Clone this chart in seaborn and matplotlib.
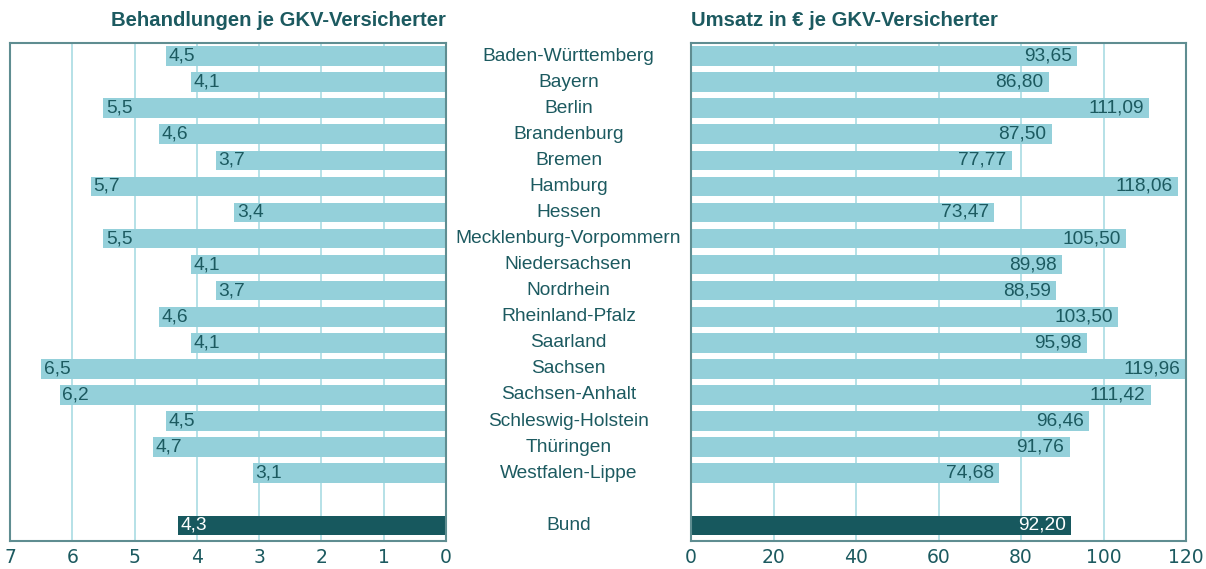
import matplotlib
matplotlib.use('Agg')
import matplotlib.pyplot as plt
import matplotlib.transforms as mtransforms
import seaborn as sns
import pandas as pd

regions = ["Baden-Württemberg", "Bayern", "Berlin", "Brandenburg", "Bremen",
           "Hamburg", "Hessen", "Mecklenburg-Vorpommern", "Niedersachsen",
           "Nordrhein", "Rheinland-Pfalz", "Saarland", "Sachsen",
           "Sachsen-Anhalt", "Schleswig-Holstein", "Thüringen",
           "Westfalen-Lippe", "Bund"]
behandlungen = [4.5, 4.1, 5.5, 4.6, 3.7, 5.7, 3.4, 5.5, 4.1, 3.7, 4.6, 4.1,
                6.5, 6.2, 4.5, 4.7, 3.1, 4.3]
umsatz = [93.65, 86.80, 111.09, 87.50, 77.77, 118.06, 73.47, 105.50, 89.98,
          88.59, 103.50, 95.98, 119.96, 111.42, 96.46, 91.76, 74.68, 92.20]
left_ticks = [7, 6, 5, 4, 3, 2, 1, 0]
right_ticks = [0, 20, 40, 60, 80, 100, 120]

LIGHT = "#94d0da"
DARK = "#17585e"
TEXT = "#1c5a60"
GRID = "#a9dbe3"
SPINE = "#5f8d91"

df = pd.DataFrame({"Region": regions, "Behandlungen": behandlungen, "Umsatz": umsatz})
df["Typ"] = ["Bund" if r == "Bund" else "KV" for r in df["Region"]]
order = regions[:-1] + [" "] + ["Bund"]
palette = {"KV": LIGHT, "Bund": DARK}

sns.set_style("white")
plt.rcParams['font.family'] = ['Liberation Sans', 'DejaVu Sans']

fig = plt.figure(figsize=(12.06, 5.69), dpi=100)
ax1 = fig.add_axes([10 / 1206, 28 / 569, 436 / 1206, 498 / 569])
ax2 = fig.add_axes([691 / 1206, 28 / 569, 495 / 1206, 498 / 569])

for ax, col in [(ax1, "Behandlungen"), (ax2, "Umsatz")]:
    sns.barplot(data=df, y="Region", x=col, hue="Typ", order=order,
                palette=palette, orient="h", width=0.75, legend=False,
                saturation=1, linewidth=0, ax=ax, zorder=2)
    ax.set_ylim(18.6, -0.5)
    ax.set_ylabel("")
    ax.set_xlabel("")
    ax.set_yticks([])
    ax.grid(axis="x", color=GRID, linewidth=1.2, zorder=0)
    ax.set_axisbelow(True)
    for s in ax.spines.values():
        s.set_visible(True)
        s.set_color(SPINE)
        s.set_linewidth(1.5)
    ax.tick_params(axis="x", length=0, pad=5, labelsize=13.5, labelcolor=TEXT)

ax1.set_xlim(7, 0)
ax1.set_xticks(left_ticks)
ax1.set_xticklabels([str(t) for t in left_ticks], fontfamily="DejaVu Sans")
ax2.set_xlim(0, 120)
ax2.set_xticks(right_ticks)
ax2.set_xticklabels([str(t) for t in right_ticks], fontfamily="DejaVu Sans")

# value labels
pos = {r: i for i, r in enumerate(order)}
for r, v in zip(regions, behandlungen):
    c = "white" if r == "Bund" else TEXT
    ax1.text(v - 0.04, pos[r], f"{v:.1f}".replace(".", ","), ha="left",
             va="center", fontsize=13.8, color=c, zorder=3)
for r, v in zip(regions, umsatz):
    c = "white" if r == "Bund" else TEXT
    ax2.text(v - 1.3, pos[r], f"{v:.2f}".replace(".", ","), ha="right",
             va="center", fontsize=13.8, color=c, zorder=3)

# category labels between the panels
trans = mtransforms.blended_transform_factory(fig.transFigure, ax2.transData)
for r in regions:
    fig.text(568.5 / 1206, pos[r], r, transform=trans, ha="center",
             va="center", fontsize=13.8, color=TEXT)

fig.text(446 / 1206, 1 - 20 / 569, "Behandlungen je GKV-Versicherter",
         ha="right", va="center", fontsize=14.6, fontweight="bold", color=TEXT)
fig.text(691 / 1206, 1 - 20 / 569, "Umsatz in € je GKV-Versicherter",
         ha="left", va="center", fontsize=14.6, fontweight="bold", color=TEXT)

fig.savefig("out.png", dpi=100)
plt.close(fig)
